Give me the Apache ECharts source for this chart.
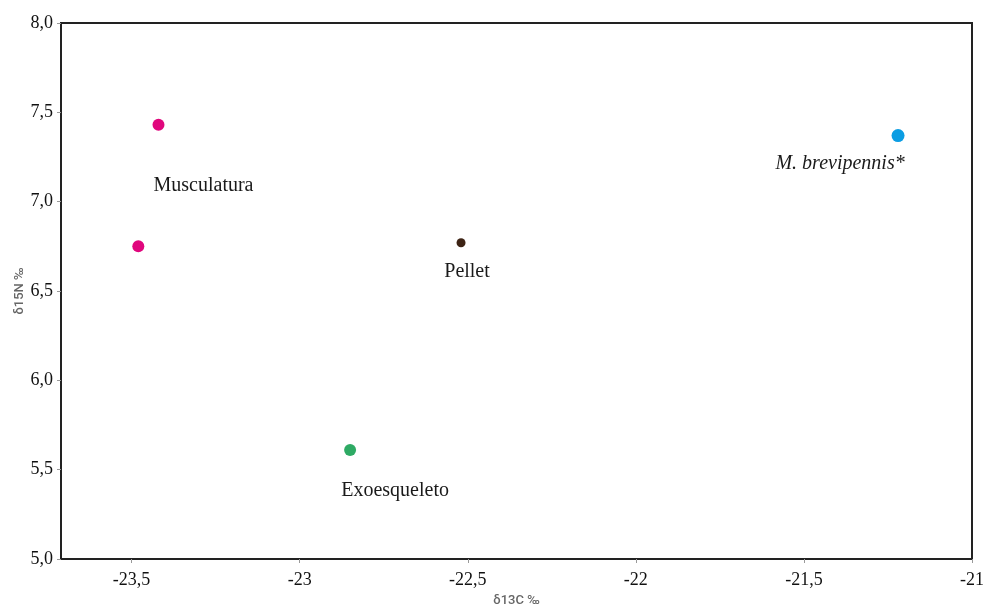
<!DOCTYPE html>
<html lang="es">
<head>
    <meta charset="UTF-8">
    <title>δ13C / δ15N</title>
    <script src="https://cdn.jsdelivr.net/npm/echarts@6/dist/echarts.min.js"></script>
    <style>
        html, body { margin: 0; padding: 0; background: #fff; }
        #box { width: 984px; height: 606px; }
    </style>
</head>
<body>
<div id="box"></div>
<script>
    // datos
    var names = ['Musculatura', 'Musculatura', 'Pellet', 'Exoesqueleto', 'M. brevipennis*'];
    var d13C = [-23.42, -23.48, -22.52, -22.85, -21.22];
    var d15N = [7.43, 6.75, 6.77, 5.61, 7.37];
    var colors = ['#e0077d', '#e0077d', '#3d2314', '#2eaa64', '#0b9de3'];
    var sizes = [12, 12, 9, 12, 13];
    var xTicks = [-23.5, -23, -22.5, -22, -21.5, -21];

    // posición de cada etiqueta respecto al punto
    var labelOffsets = [[45, 61], null, [6, 29], [45, 41], [-58, 28]];
    var labelShown = [true, false, true, true, true];

    var serif = '"Liberation Serif", "DejaVu Serif", serif';

    var points = [];
    for (var i = 0; i < names.length; i++) {
        points.push({
            name: names[i],
            value: [d13C[i], d15N[i]],
            symbolSize: sizes[i],
            itemStyle: { color: colors[i], opacity: 1 },
            label: {
                show: labelShown[i],
                position: 'inside',
                offset: labelOffsets[i] || [0, 0],
                formatter: names[i],
                fontStyle: i === 4 ? 'italic' : 'normal'
            }
        });
    }

    function comma(v) {
        return String(v).replace('.', ',');
    }

    var myChart = echarts.init(document.getElementById('box'));
    var option = {
        animation: false,
        grid: {
            left: 61,
            right: 12,
            top: 23,
            bottom: 47,
            outerBoundsMode: 'none',
            containLabel: false,
            show: true,
            borderColor: '#222',
            borderWidth: 2
        },
        xAxis: {
            type: 'value',
            min: -23.71,
            max: -21,
            name: 'δ13C ‰',
            nameLocation: 'middle',
            nameGap: 34,
            nameTextStyle: { color: '#666', fontFamily: 'Roboto, sans-serif', fontSize: 13, fontWeight: 500 },
            axisLine: { lineStyle: { color: '#222', width: 2 } },
            axisTick: { show: true, customValues: xTicks, length: 4, lineStyle: { color: '#999' } },
            axisLabel: {
                customValues: xTicks,
                margin: 12,
                color: '#111',
                fontFamily: serif,
                fontSize: 18,
                formatter: function (v) { return comma(v); }
            },
            splitLine: { show: false }
        },
        yAxis: {
            type: 'value',
            min: 5,
            max: 8,
            interval: 0.5,
            name: 'δ15N ‰',
            nameLocation: 'middle',
            nameGap: 35,
            nameMoveOverlap: false,
            nameTextStyle: { color: '#666', fontFamily: 'Roboto, sans-serif', fontSize: 13, fontWeight: 500 },
            axisLine: { show: true, lineStyle: { color: '#222', width: 2 } },
            axisTick: { show: true, length: 4, lineStyle: { color: '#999' } },
            axisLabel: {
                margin: 8,
                color: '#111',
                fontFamily: serif,
                fontSize: 18,
                formatter: function (v) { return v.toFixed(1).replace('.', ','); }
            },
            splitLine: { show: false }
        },
        series: [
            {
                type: 'scatter',
                symbol: 'circle',
                data: points,
                label: {
                    color: '#1a1a1a',
                    fontFamily: serif,
                    fontSize: 20,
                    align: 'center',
                    verticalAlign: 'middle'
                }
            }
        ]
    };
    myChart.setOption(option);
</script>
</body>
</html>
